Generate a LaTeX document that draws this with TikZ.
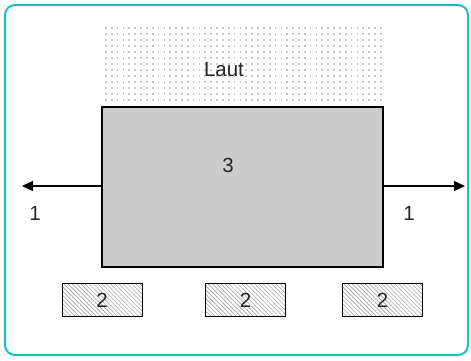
\documentclass[tikz,border=0pt]{standalone}
\usepackage{fontspec}
\setmainfont{Liberation Sans}
\usetikzlibrary{patterns.meta,arrows.meta}
\definecolor{framecyan}{RGB}{28,190,200}
\definecolor{boxgray}{RGB}{204,204,204}
\definecolor{dotgray}{RGB}{200,200,200}
\tikzset{
  lbl/.style={font=\fontsize{20.5}{24}\selectfont, text=black!85, inner sep=0pt},
  smallbox/.style={draw=black, line width=1pt, minimum width=80pt, minimum height=33pt,
    pattern={Lines[angle=-45,distance=3pt,line width=0.4pt]}, pattern color=black!45},
  arr/.style={line width=1.3pt, -{Triangle[length=11pt,width=10pt]}},
}
\begin{document}
\begin{tikzpicture}[x=1pt,y=-1pt]
\useasboundingbox (0,0) rectangle (471,360);
\draw[framecyan, line width=2pt, rounded corners=10pt] (5,5) rectangle (468,355);
% dotted region
\foreach \i in {0,...,47} {
  \foreach \j in {0,...,12} {
    \fill[dotgray] ({105+\i*5.85},{27+\j*6}) rectangle ++(1.7,1.5);
  }
}
\node[lbl] (laut) at (224,70) {Laut};
\node[draw=black, line width=1.3pt, fill=boxgray, minimum width=281pt, minimum height=160pt, inner sep=0pt] (main) at (242.5,187) {};
\node[lbl] (three) at (228,165) {3};
\coordinate (lend) at (22,186);
\coordinate (rend) at (465,186);
\draw[arr] (main.west |- lend) -- (lend);
\draw[arr] (main.east |- rend) -- (rend);
\node[lbl] (l1) at (35,213) {1};
\node[lbl] (r1) at (409,213) {1};
\node[smallbox] (b1) at (102,300) {};
\node[smallbox] (b2) at (245.5,300) {};
\node[smallbox] (b3) at (382.5,300) {};
\node[lbl] at (b1) {2};
\node[lbl] at (b2) {2};
\node[lbl] at (b3) {2};
\end{tikzpicture}
\end{document}
